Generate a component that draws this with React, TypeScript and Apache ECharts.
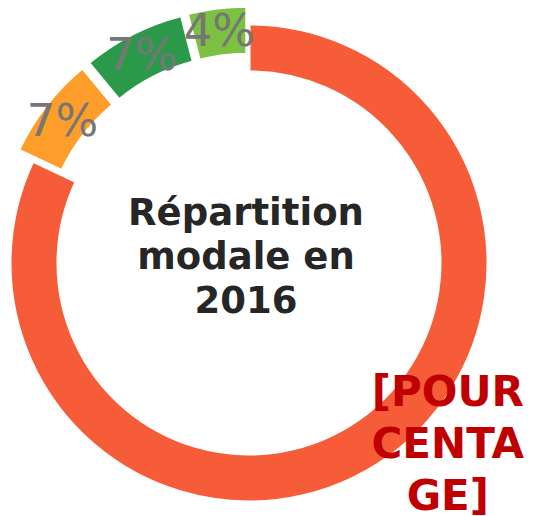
import React, { useEffect, useRef } from "react";
import * as echarts from "echarts";

const categories = ["Voiture", "Transports en commun", "Vélo", "Marche"];
const values = [82, 7, 7, 4];
const colors = ["#F65C37", "#FE9D2A", "#2A9A4A", "#7CC142"];
const labelTexts = ["[POUR\nCENTA\nGE]", "7%", "7%", "4%"];
const exploded = [false, true, true, true];
const centerTitle = "Répartition\nmodale en\n2016";

export default function App() {
  const ref = useRef<HTMLDivElement>(null);
  useEffect(() => {
    if (!ref.current) return;
    const chart = echarts.init(ref.current, null, { renderer: "svg" });
    const font = "'DejaVu Sans', Verdana, sans-serif";
    chart.setOption({
      animation: false,
      backgroundColor: "#ffffff",
      graphic: [
        {
          type: "text",
          x: 246,
          y: 256,
          style: {
            text: centerTitle,
            align: "center",
            verticalAlign: "middle",
            fontFamily: font,
            fontWeight: "bold",
            fontSize: 37,
            lineHeight: 44,
            fill: "#262626",
          },
        },
      ],
      series: [
        {
          type: "pie",
          center: [249, 263],
          radius: [191, 239],
          startAngle: 90,
          clockwise: true,
          selectedMode: "multiple",
          selectedOffset: 18,
          avoidLabelOverlap: false,
          emphasis: { disabled: true },
          select: { itemStyle: { borderColor: "#ffffff", borderWidth: 3 } },
          itemStyle: { borderColor: "#ffffff", borderWidth: 3 },
          labelLine: { show: false },
          labelLayout: (p: any) => (p.dataIndex === 0 ? { dx: 82, dy: -4 } : { dy: 2 }),
          data: categories.map((name, i) => ({
            name,
            value: values[i],
            selected: exploded[i],
            itemStyle: { color: colors[i] },
            label:
              i === 0
                ? {
                    show: true,
                    position: "inside",
                    formatter: () => labelTexts[i],
                    color: "#C00000",
                    fontFamily: font,
                    fontWeight: "bold",
                    fontSize: 42,
                    lineHeight: 52,
                    align: "center",
                  }
                : {
                    show: true,
                    position: "inside",
                    formatter: () => labelTexts[i],
                    color: "#767676",
                    fontFamily: font,
                    fontWeight: "normal",
                    fontSize: 45,
                  },
          })),
        },
      ],
    });
    return () => chart.dispose();
  }, []);
  return (
    <div
      ref={ref}
      style={{ position: "fixed", left: 0, top: 0, width: 550, height: 516 }}
    />
  );
}
